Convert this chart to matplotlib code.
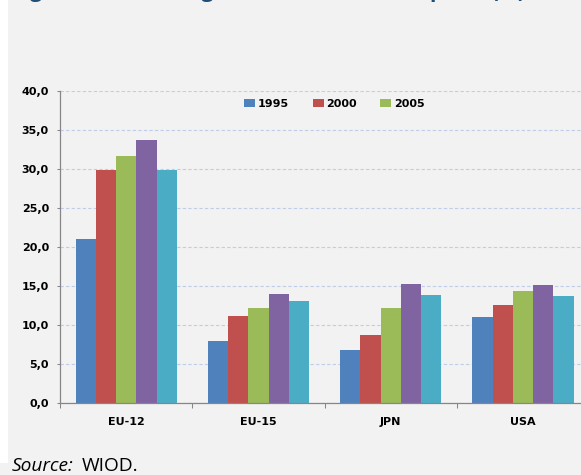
import matplotlib.pyplot as plt
import numpy as np
from matplotlib.patches import Patch, Rectangle

# Foreign content of total exports (%), by region and year.
regions = ["EU-12", "EU-15", "JPN", "USA"]
years = ["1995", "2000", "2005", "2008", "2009"]
share_1995 = [21.0, 8.0, 6.8, 11.0]
share_2000 = [29.8, 11.2, 8.7, 12.6]
share_2005 = [31.7, 12.2, 12.2, 14.4]
share_2008 = [33.7, 14.0, 15.3, 15.2]
share_2009 = [29.9, 13.1, 13.8, 13.7]
y_ticks = [0, 5, 10, 15, 20, 25, 30, 35, 40]

colors = ["#4f81bd", "#c0504d", "#9bbb59", "#8064a2", "#4bacc6"]
bg = "#f2f2f2"
W, H = 581, 475


def main():
    series = [share_1995, share_2000, share_2005, share_2008, share_2009]

    fig = plt.figure(figsize=(W / 100, H / 100), dpi=100, facecolor=bg)
    # thin white strip on the left edge of the page
    fig.patches.append(Rectangle((0, 12 / H), 8 / W, 1 - 12 / H,
                                 transform=fig.transFigure,
                                 facecolor="white", edgecolor="none"))

    # axes box in pixels: left spine at x=60, y=0 at 403, y=40 at 91
    left, bottom, top = 60, H - 403.3, H - 90.7
    width = 4 * 132.3
    ax = fig.add_axes([left / W, bottom / H, width / W, (top - bottom) / H])
    ax.set_facecolor(bg)

    x = np.arange(len(regions))
    bar_w = 0.153
    n = len(series)
    for i, vals in enumerate(series):
        offs = (i - (n - 1) / 2) * bar_w
        ax.bar(x + offs, vals, bar_w, color=colors[i], label=years[i],
               zorder=3, linewidth=0)

    ax.set_xlim(-0.5, len(regions) - 0.5)
    ax.set_ylim(0, 40)
    ax.set_yticks(y_ticks)
    ax.set_yticklabels([f"{v:.1f}".replace(".", ",") for v in y_ticks])
    ax.set_xticks(x)
    ax.set_xticklabels(regions)
    ax.set_xticks(np.arange(-0.5, len(regions)), minor=True)

    tick_font = dict(family="DejaVu Sans", weight="bold", size=8)
    for lab in ax.get_yticklabels() + ax.get_xticklabels():
        lab.set(**tick_font)
    ax.tick_params(axis="y", length=2.5, width=0.75, color="#868686", pad=5.5)
    ax.tick_params(axis="x", which="major", length=0, pad=10)
    ax.tick_params(axis="x", which="minor", length=3.5, width=0.75,
                   color="#868686")

    ax.yaxis.grid(True, color="#bfcde8", linewidth=0.8,
                  linestyle=(0, (3, 2)), zorder=0)
    ax.set_axisbelow(True)
    for side in ("top", "right"):
        ax.spines[side].set_visible(False)
    for side in ("left", "bottom"):
        ax.spines[side].set_color("#868686")
        ax.spines[side].set_linewidth(0.9)
    ax.spines["bottom"].set_zorder(4)

    handles = [Patch(facecolor=colors[i], edgecolor="none") for i in range(3)]
    ax.legend(handles, years[:3], loc="center left",
              bbox_to_anchor=(0.348, 0.958), ncol=3, frameon=False,
              prop=tick_font, handlelength=1.0, handleheight=0.7,
              handletextpad=0.25, columnspacing=2.1, borderpad=0,
              borderaxespad=0)

    # title of the page, cut off by the top edge: only descenders show
    title = fig.text(12 / W, 1 + 3 / H,
                     "Figure 2: The foreign content of total exports (%)",
                     ha="left", va="baseline", color="#1f4e79",
                     family="Open Sans", weight="bold", fontsize=13)
    fig.canvas.draw()
    tw = title.get_window_extent().width
    title.set_fontsize(13 * 510 / tw)

    fig.text(12 / W, 4 / H, "Source:", ha="left", va="baseline",
             family="Open Sans", style="italic", fontsize=13.8, color="black")
    fig.text(82 / W, 4 / H, "WIOD.", ha="left", va="baseline",
             family="Open Sans", fontsize=13.8, color="black")

    fig.savefig("out.png", dpi=100, facecolor=bg)
    plt.close(fig)


if __name__ == "__main__":
    main()
